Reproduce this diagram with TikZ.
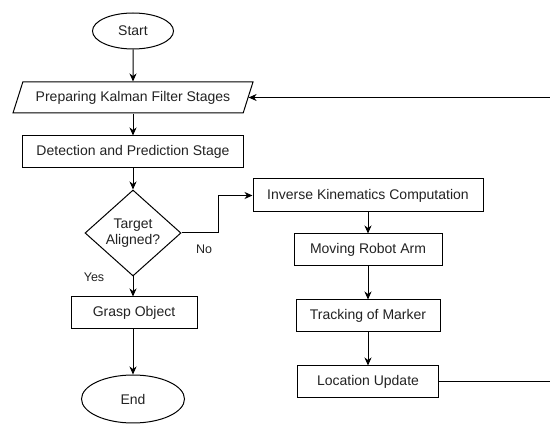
\documentclass[tikz,border=0pt]{standalone}
\usepackage{fontspec}
\setmainfont{Liberation Sans}
\usetikzlibrary{shapes.geometric, arrows.meta, positioning}
\definecolor{cText}{RGB}{34, 34, 34}
\definecolor{bLine}{RGB}{0, 0, 0}

\begin{document}
\begin{tikzpicture}[
    x=1pt, y=-1pt,
    font=\fontsize{14}{16}\selectfont,
    >={Stealth[length=8pt, width=7pt, inset=2.5pt]},
    node distance=21pt,
    block/.style={
        draw=bLine,
        line width=1pt,
        rectangle,
        align=center,
        inner sep=0pt,
        text=cText,
        minimum height=32pt,
        minimum width=#1
    },
    terminal/.style 2 args={
        ellipse,
        draw=bLine,
        line width=1pt,
        inner sep=0pt,
        text=cText,
        minimum width=#1,
        minimum height=#2
    },
    io/.style={
        trapezium,
        trapezium left angle=53,
        trapezium right angle=127,
        trapezium stretches body,
        draw=bLine,
        line width=1pt,
        inner sep=0pt,
        text=cText,
        minimum width=240pt,
        minimum height=31pt
    },
    decision/.style={
        diamond,
        shape aspect=1.1,
        draw=bLine,
        line width=1pt,
        inner sep=0pt,
        align=center,
        text=cText,
        minimum width=96pt,
        minimum height=86pt
    },
    lbl/.style={font=\fontsize{12.5}{14}\selectfont, text=cText, inner sep=0pt},
    arrow/.style={->, line width=1pt, color=bLine}
]

\useasboundingbox (0,0) rectangle (550,425);

% Main column
\node[terminal={81pt}{36pt}] (start) at (133, 31) {Start};
\node[io] (prep) at (133, 97.5) {Preparing Kalman Filter Stages};
\node[block=221pt] (det) at (133, 152) {Detection and Prediction Stage};
\node[decision] (dec) at (133, 233) {Target\\Aligned?};
\node[block=126pt] (grasp) at (134, 313) {Grasp Object};
\node[terminal={103pt}{48pt}] (stop) at (133, 399) {End};

% Arm loop
\node[block=230pt, minimum height=33pt] (ik) at (368, 195.5) {Inverse Kinematics Computation};
\node[block=148pt, below=21pt of ik] (arm) {Moving Robot Arm};
\node[block=144pt, below=33pt of arm] (track) {Tracking of Marker};
\node[block=141pt, below=33pt of track] (loc) {Location Update};

\node[lbl] (no) at (204, 249) {No};
\node[lbl] (yes) at (94, 277) {Yes};

\coordinate (rail) at (562, 0);

\draw[arrow] (start) -- (prep);
\draw[arrow] (prep) -- (det);
\draw[arrow] (det) -- (dec);
\draw[arrow] (dec.south) -- (dec.south |- grasp.north);
\draw[arrow] (grasp.south -| stop.north) -- (stop.north);

\draw[arrow] (dec.east) -- ++(37,0) |- (ik.west);
\draw[arrow] (ik) -- (arm);
\draw[arrow] (arm) -- (track);
\draw[arrow] (track) -- (loc);
\draw[arrow] (loc.east) -- (loc.east -| rail) -- (prep.east -| rail) -- (prep.east);

\end{tikzpicture}
\end{document}
